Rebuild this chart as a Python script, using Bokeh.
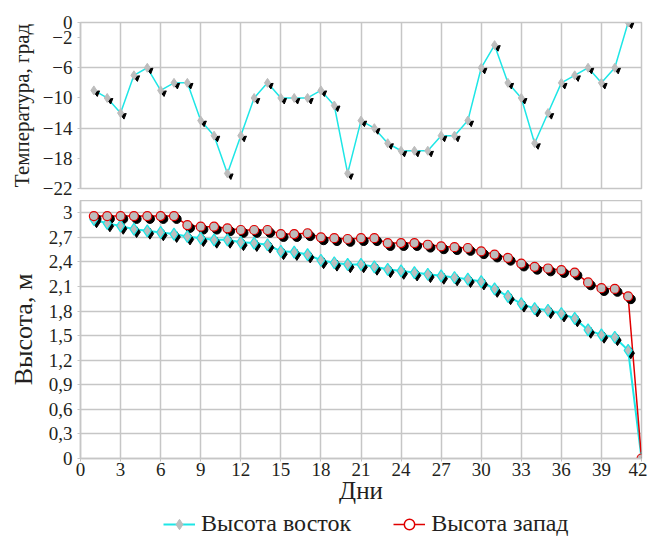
from bokeh.plotting import figure
from bokeh.models import Range1d, FixedTicker, CustomJSTickFormatter, Legend, LegendItem
from bokeh.transform import dodge
from bokeh.layouts import column
from bokeh.embed import file_html
from bokeh.resources import INLINE

# ---- data ----
days_t = list(range(1, 42))
temp = [-9, -10, -12, -7, -6, -9, -8, -8, -13, -15, -20, -15, -10, -8, -10, -10, -10, -9, -11, -20,
        -13, -14, -16, -17, -17, -17, -15, -15, -13, -6, -3, -8, -10, -16, -12, -8, -7, -6, -8, -6, 0]

days_h = list(range(1, 43))
east = [2.92, 2.87, 2.84, 2.80, 2.78, 2.76, 2.74, 2.71, 2.69, 2.67,
        2.67, 2.64, 2.63, 2.61, 2.53, 2.52, 2.49, 2.42, 2.39, 2.37,
        2.37, 2.34, 2.31, 2.29, 2.27, 2.25, 2.23, 2.21, 2.19, 2.16,
        2.07, 1.98, 1.89, 1.83, 1.81, 1.77, 1.71, 1.57, 1.51, 1.48, 1.32, 0.0]
west = [2.96, 2.96, 2.96, 2.96, 2.96, 2.96, 2.96, 2.85, 2.83, 2.83,
        2.81, 2.79, 2.79, 2.79, 2.74, 2.74, 2.75, 2.70, 2.69, 2.68,
        2.69, 2.69, 2.63, 2.63, 2.63, 2.61, 2.59, 2.58, 2.57, 2.53,
        2.49, 2.45, 2.38, 2.34, 2.32, 2.30, 2.27, 2.15, 2.08, 2.07, 1.98, 0.0]

x_ticks = list(range(0, 43, 3))
t_ticks = [0, -2, -6, -10, -14, -18, -22]
h_ticks = [0, 0.3, 0.6, 0.9, 1.2, 1.5, 1.8, 2.1, 2.4, 2.7, 3.0]

label_east = "Высота восток"
label_west = "Высота запад"
title_t = "Температура, град"
title_h = "Высота, м"
title_x = "Дни"

FONT = "Liberation Serif"
TXT = "#231f20"
GRID = "#c6c6c6"
CYAN = "#1ee6e6"
RED = "#e00000"
MARK = "#bdbdbd"
W = 647


def style(p):
    p.outline_line_color = GRID
    p.outline_line_width = 1.5
    p.xgrid.grid_line_color = GRID
    p.ygrid.grid_line_color = GRID
    p.xgrid.grid_line_width = 1.5
    p.ygrid.grid_line_width = 1.5
    for ax in p.axis:
        ax.axis_line_color = GRID
        ax.axis_line_width = 1.5
        ax.major_tick_line_color = GRID
        ax.major_tick_in = 0
        ax.major_tick_out = 3
        ax.minor_tick_line_color = None
        ax.major_label_text_font = FONT
        ax.major_label_text_font_size = "19px"
        ax.major_label_text_color = TXT
        ax.axis_label_text_font = FONT
        ax.axis_label_text_font_style = "normal"
        ax.axis_label_text_color = TXT
    p.background_fill_color = "white"
    p.border_fill_color = "white"


# ---- top: temperature ----
pt = figure(width=W, height=200, output_backend="svg", toolbar_location=None,
            x_range=Range1d(0, 42), y_range=Range1d(-22, 0),
            min_border_left=80, min_border_right=6, min_border_top=22, min_border_bottom=12)
style(pt)
pt.xaxis.visible = False
pt.xaxis.ticker = FixedTicker(ticks=x_ticks)
pt.xgrid.ticker = FixedTicker(ticks=x_ticks)
pt.yaxis.ticker = FixedTicker(ticks=t_ticks)
pt.ygrid.ticker = FixedTicker(ticks=[-22, -14, -6])
pt.yaxis.formatter = CustomJSTickFormatter(code="return tick < 0 ? '\u2212' + Math.abs(tick) : '' + tick;")
pt.yaxis.axis_label = title_t
pt.yaxis.axis_label_text_font_size = "21px"
pt.yaxis.axis_label_standoff = 6

src_t = dict(x=days_t, y=temp)
pt.line("x", "y", source=src_t, line_color=CYAN, line_width=1.5)
pt.scatter(dodge("x", 0.22, range=pt.x_range), dodge("y", -0.35, range=pt.y_range), source=src_t,
           marker="triangle", size=6, fill_color="black", line_color="black", angle=-0.9)
pt.scatter("x", "y", source=src_t, marker="diamond", size=9, fill_color=MARK, line_color=MARK)

# ---- bottom: height ----
pb = figure(width=W, height=311, output_backend="svg", toolbar_location=None,
            x_range=Range1d(0, 42), y_range=Range1d(0, 3.15),
            min_border_left=80, min_border_right=6, min_border_top=0, min_border_bottom=53)
style(pb)
pb.xaxis.ticker = FixedTicker(ticks=x_ticks)
pb.xgrid.ticker = FixedTicker(ticks=x_ticks)
pb.yaxis.ticker = FixedTicker(ticks=h_ticks)
pb.ygrid.ticker = FixedTicker(ticks=h_ticks)
pb.yaxis.formatter = CustomJSTickFormatter(code="return (Math.round(tick*10)/10).toString().replace('.', ',');")
pb.yaxis.axis_label = title_h
pb.yaxis.axis_label_text_font_size = "26px"
pb.yaxis.axis_label_standoff = 8
pb.xaxis.axis_label = title_x
pb.xaxis.axis_label_text_font_size = "25px"
pb.xaxis.axis_label_standoff = -2
pb.xaxis.major_label_standoff = 1

src_e = dict(x=days_h, y=east)
src_w = dict(x=days_h, y=west)

pb.line("x", "y", source=src_e, line_color=CYAN, line_width=2)
pb.line("x", "y", source=src_w, line_color=RED, line_width=1.5)
pb.scatter(dodge("x", 0.2, range=pb.x_range), dodge("y", -0.035, range=pb.y_range), source=src_e,
           marker="diamond", size=11, fill_color="black", line_color="black")
pb.scatter(dodge("x", 0.2, range=pb.x_range), dodge("y", -0.035, range=pb.y_range), source=src_w,
           marker="circle", size=9, fill_color="black", line_color="black")
pb.scatter("x", "y", source=src_e, marker="diamond", size=12, fill_color=MARK,
           line_color=CYAN, line_width=1.2)
pb.scatter("x", "y", source=src_w, marker="circle", size=9, fill_color=MARK,
           line_color=RED, line_width=1.2)

# ---- legend strip ----
pl = figure(width=W, height=26, output_backend="svg", toolbar_location=None,
            x_range=Range1d(0, 1), y_range=Range1d(0, 1), x_axis_type=None, y_axis_type=None,
            min_border_left=0, min_border_right=0, min_border_top=0, min_border_bottom=0)
pl.grid.visible = False
pl.outline_line_color = None
hidden = dict(x=[-5, -4], y=[-5, -5])
lg_e_l = pl.line("x", "y", source=hidden, line_color=CYAN, line_width=2)
lg_e_m = pl.scatter("x", "y", source=hidden, marker="diamond", size=10, fill_color=MARK, line_color=MARK)
lg_w_l = pl.line("x", "y", source=hidden, line_color=RED, line_width=1.5)
lg_w_m = pl.scatter("x", "y", source=hidden, marker="circle", size=6, fill_color="white",
                    line_color=RED, line_width=1.5)

legend = Legend(items=[LegendItem(label=label_east, renderers=[lg_e_l, lg_e_m], index=0),
                       LegendItem(label=label_west, renderers=[lg_w_l, lg_w_m], index=0)],
                orientation="horizontal", location=(83, 0),
                label_text_font=FONT, label_text_font_size="24px", label_text_color=TXT,
                label_height=26, glyph_height=26,
                border_line_color=None, background_fill_alpha=0,
                glyph_width=32, spacing=42, padding=0, margin=0, label_standoff=6)
pl.add_layout(legend)

layout = column(pt, pb, pl, spacing=0)
open("out.html", "w").write(file_html(layout, INLINE))
